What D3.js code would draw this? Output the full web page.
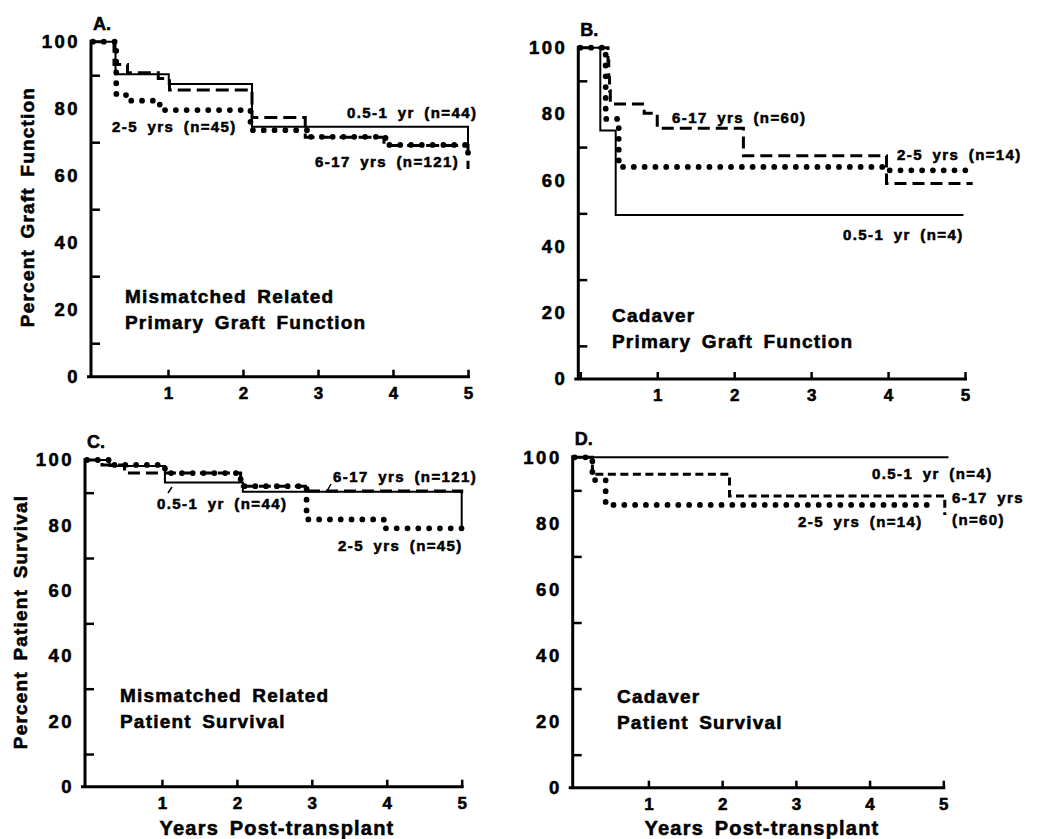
<!DOCTYPE html>
<html lang="en">
<head>
<meta charset="UTF-8">
<title>Graft function and patient survival by age</title>
<style>
  html, body { margin: 0; padding: 0; background: #fff; }
  svg { display: block; font-family: "Liberation Sans", Arial, sans-serif; font-weight: bold; }
  svg text { stroke: #000; stroke-width: 0.55px; }
</style>
</head>
<body>
<svg id="svg" width="1052" height="839"></svg>
<script src="https://d3js.org/d3.v7.min.js"></script>
<script>
// ---- data: [years post-transplant, percent] step points ----
const yearTicks = [1, 2, 3, 4, 5]
const pctTicks = [0, 20, 40, 60, 80, 100]
const minorPct = [10, 30, 50, 70, 90]

// A. mismatched related, primary graft function
const aSolid = [[0, 100], [0.3, 90.3], [1.01, 87.4], [2.12, 74.6], [5, 68]]
const aDashed = [[0, 100], [0.28, 93.2], [0.46, 90.7], [0.87, 89], [1.02, 85.6], [2.12, 77.4], [2.83, 71.5], [3.88, 69], [5, 62]]
const aDotted = [[0, 100], [0.31, 84.4], [0.44, 82.4], [0.89, 79.6], [2.1, 73.6], [2.86, 71.6], [3.9, 69.2], [5, 65.5]]

// B. cadaver, primary graft function
const bSolid = [[0, 100], [0.26, 75], [0.46, 49.5], [4.98, 49.5]]
const bDashed = [[0, 100], [0.36, 96], [0.37, 91], [0.38, 87], [0.39, 83], [0.83, 80.2], [1.0, 75.7], [2.12, 67.4], [3.98, 59], [5.1, 59]]
const bDotted = [[0, 100], [0.33, 78.5], [0.5, 64], [3.98, 63], [5.04, 63]]

// C. mismatched related, patient survival
const cSolid = [[0, 100], [0.3, 98.2], [1.04, 93.1], [2.08, 90.3], [5, 79]]
const cDashed = [[0, 100], [0.2, 98.5], [0.5, 96], [2.05, 92], [2.95, 90.5], [5, 88.5]]
const cDotted = [[0, 100], [0.3, 98.5], [1.04, 96], [2.05, 92], [2.93, 81.8], [3.96, 79.1], [5, 79.1]]

// D. cadaver, patient survival
const dSolid = [[0, 100], [5.07, 100]]
const dDashed = [[0, 100], [0.24, 94.9], [2.1, 88.3], [5.02, 82.5]]
const dDotted = [[0, 100], [0.24, 93.1], [0.42, 85.6], [4.88, 85.6]]

const labelsA = ['0.5-1 yr (n=44)', '2-5 yrs (n=45)', '6-17 yrs (n=121)']
const labelsB = ['6-17 yrs (n=60)', '2-5 yrs (n=14)', '0.5-1 yr (n=4)']
const labelsC = ['6-17 yrs (n=121)', '0.5-1 yr (n=44)', '2-5 yrs (n=45)']
const labelsD = ['0.5-1 yr (n=4)', '6-17 yrs', '(n=60)', '2-5 yrs (n=14)']

// ---- layout ----
const panels = [
  { letter: 'A.', left: 91, right: 468, top: 41.7, bottom: 376.7, dash: '13,6',
    ylab: 'Percent Graft Function', ylabPos: [27, 207],
    title: ['Mismatched Related', 'Primary Graft Function'], titlePos: [125, 303],
    series: [aDotted, aDashed, aSolid],
    labels: labelsA, labelPos: [[347, 118], [112, 132], [315, 167]] },
  { letter: 'B.', left: 578.3, right: 965, top: 47.7, bottom: 379, dash: '12,6', zeroTick: true,
    title: ['Cadaver', 'Primary Graft Function'], titlePos: [612, 322],
    series: [bDotted, bDashed, bSolid],
    labels: labelsB, labelPos: [[672, 123], [897, 160], [843, 240]] },
  { letter: 'C.', left: 85, right: 461.7, top: 460, bottom: 786.7, dash: '12,6',
    ylab: 'Percent Patient Survival', ylabPos: [20, 622], xlab: [277, 835],
    title: ['Mismatched Related', 'Patient Survival'], titlePos: [120, 702],
    series: [cDotted, cDashed, cSolid],
    labels: labelsC, labelPos: [[333, 482], [157, 509], [338, 551]],
    leaders: [[[331, 484], [327, 491]], [[172, 487], [168, 493]]] },
  { letter: 'D.', left: 572.7, right: 943.3, top: 457.3, bottom: 787.7, dash: '8,4.5',
    xlab: [762, 835],
    title: ['Cadaver', 'Patient Survival'], titlePos: [617, 703],
    series: [dDotted, dDashed, dSolid],
    labels: labelsD, labelPos: [[872, 479], [952, 503], [952, 525], [798, 527]] }
]

const svg = d3.select('#svg')
const styles = ['dotted', 'dashed', 'solid']

function drawPanel(p) {
  const g = svg.append('g')
  const x = d3.scaleLinear().domain([0, 5]).range([p.left + 2, p.right])
  const y = d3.scaleLinear().domain([0, 100]).range([p.bottom, p.top])

  // x axis, ticks pointing up
  const xa = g.append('g')
    .attr('transform', `translate(0,${p.bottom})`)
    .call(d3.axisBottom(x)
      .tickValues(p.zeroTick ? [0].concat(yearTicks) : yearTicks)
      .tickSize(-7).tickPadding(10)
      .tickFormat(d => d === 0 ? '' : d))
  xa.select('.domain').remove()
  xa.selectAll('line').attr('stroke', '#000').attr('stroke-width', 2.5)
  xa.selectAll('text').attr('font-size', 17).attr('font-family', null).attr('fill', '#000')

  // y axis labels
  const ya = g.append('g')
    .attr('transform', `translate(${p.left},0)`)
    .call(d3.axisLeft(y).tickValues(pctTicks).tickSize(0).tickPadding(11))
  ya.select('.domain').remove()
  ya.selectAll('text').attr('font-size', 18.5).attr('font-family', null)
    .attr('fill', '#000').style('letter-spacing', '2.5px')

  // minor ticks pointing inward
  const ym = g.append('g')
    .attr('transform', `translate(${p.left},0)`)
    .call(d3.axisLeft(y).tickValues(minorPct).tickSize(-9).tickFormat(''))
  ym.select('.domain').remove()
  ym.selectAll('line').attr('stroke', '#000').attr('stroke-width', 2.5)

  // axis lines
  g.append('line').attr('x1', p.left).attr('x2', p.left)
    .attr('y1', y(0)).attr('y2', y(100) - 2)
    .attr('stroke', '#000').attr('stroke-width', 3)
  g.append('line').attr('x1', p.left - 4).attr('x2', p.right + 2)
    .attr('y1', y(0)).attr('y2', y(0))
    .attr('stroke', '#000').attr('stroke-width', 3)

  // curves
  const line = d3.line().x(d => x(d[0])).y(d => y(d[1])).curve(d3.curveStepAfter)
  p.series.forEach((s, i) => {
    const st = styles[i]
    const path = g.append('path').attr('d', line(s)).attr('fill', 'none').attr('stroke', '#000')
    if (st === 'solid') path.attr('stroke-width', 2)
    if (st === 'dashed') path.attr('stroke-width', 3).attr('stroke-dasharray', p.dash)
    if (st === 'dotted') path.attr('stroke-width', 5.8).attr('stroke-linecap', 'round')
      .attr('stroke-dasharray', '0,10.8')
  })

  // panel letter
  g.append('text').attr('x', p.left + 2).attr('y', p.top - 12)
    .attr('font-size', 18).text(p.letter)

  // series labels
  p.labels.forEach((t, i) => {
    g.append('text').attr('x', p.labelPos[i][0]).attr('y', p.labelPos[i][1])
      .attr('font-size', 15).style('letter-spacing', '1.4px').style('word-spacing', '4px')
      .text(t)
  })
  ;(p.leaders || []).forEach(l => {
    g.append('line').attr('x1', l[0][0]).attr('y1', l[0][1])
      .attr('x2', l[1][0]).attr('y2', l[1][1])
      .attr('stroke', '#000').attr('stroke-width', 1.5)
  })

  // inner title
  p.title.forEach((t, i) => {
    g.append('text').attr('x', p.titlePos[0]).attr('y', p.titlePos[1] + i * 26)
      .attr('font-size', 19).style('letter-spacing', '1.2px').style('word-spacing', '4px')
      .text(t)
  })

  if (p.ylab) {
    g.append('text')
      .attr('transform', `translate(${p.ylabPos[0]},${p.ylabPos[1]}) rotate(-90)`)
      .attr('text-anchor', 'middle').attr('dy', '0.35em')
      .attr('font-size', 19).style('letter-spacing', '1.2px').style('word-spacing', '4px')
      .text(p.ylab)
  }
  if (p.xlab) {
    g.append('text').attr('x', p.xlab[0]).attr('y', p.xlab[1])
      .attr('text-anchor', 'middle')
      .attr('font-size', 20).style('letter-spacing', '1.2px').style('word-spacing', '4px')
      .text('Years Post-transplant')
  }
}

panels.forEach(drawPanel)
</script>
</body>
</html>
